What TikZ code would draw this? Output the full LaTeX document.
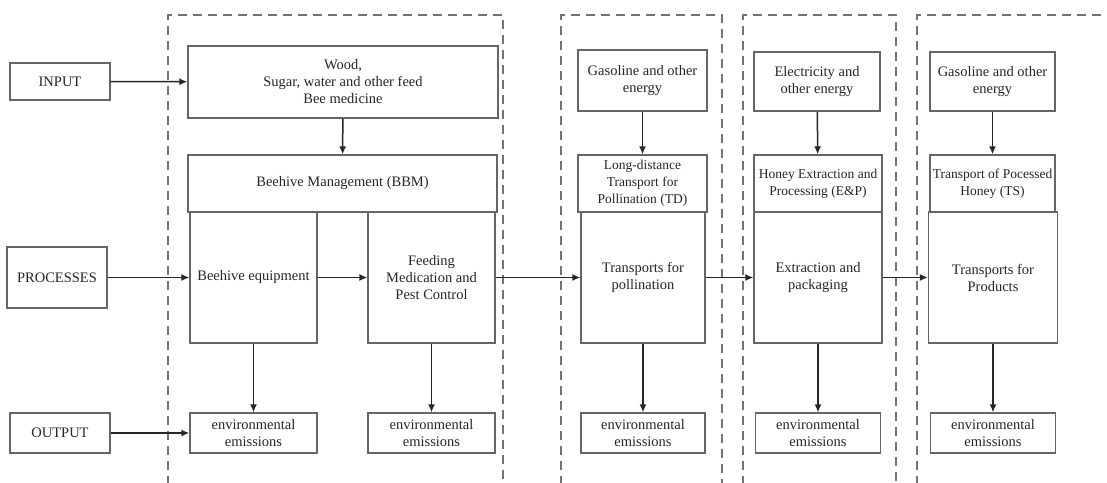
\documentclass[tikz,border=0pt]{standalone}
\usepackage{fontspec}
\setmainfont{Liberation Serif}
\usepackage{tikz}
\usetikzlibrary{arrows.meta}

\begin{document}
\begin{tikzpicture}[x=1pt,y=-1pt]
  \tikzset{ b/.style={draw=black!60,line width=1.3pt,fill=white,text=black!85,align=center,
      inner sep=1pt,font=\fontsize{14.5}{17}\selectfont},
    s/.style={b,font=\fontsize{13.5}{17}\selectfont},
    a/.style={-{Latex[length=8pt,width=7pt]},black!85,line width=1.5pt},
    pane/.style={black!55,line width=1.1pt,dash pattern=on 9pt off 6pt},
  }
  \useasboundingbox[fill=white] (0,0) rectangle (1107,482);
  \begin{scope}
    \clip (0,0) rectangle (1107,482);
    \draw[pane] (168,500) -- (168,15) -- (503,15) -- (503,500);
    \draw[pane] (561,500) -- (561,15) -- (722,15) -- (722,500);
    \draw[pane] (743,500) -- (743,15) -- (896,15) -- (896,500);
    \draw[pane] (917,500) -- (917,15) -- (1120,15);
  \end{scope}

  \node[b,minimum width=100pt,minimum height=37pt] (IN) at (60,81.5) {INPUT};
  \node[b,minimum width=100pt,minimum height=61pt] (PR) at (57,277.5) {PROCESSES};
  \node[b,minimum width=100pt,minimum height=40pt] (OUT) at (60,433) {OUTPUT};

  \node[b,minimum width=310pt,minimum height=72pt] (W) at (343,82) {Wood,\\Sugar, water and other feed\\Bee medicine};
  \node[b,minimum width=309pt,minimum height=57pt] (BBM) at (342.5,183.5) {Beehive Management (BBM)};
  \node[b,minimum width=127pt,minimum height=131pt] (BE) at (253.5,277.5) {Beehive equipment};
  \node[b,minimum width=127pt,minimum height=131pt] (FD) at (431.5,277.5) {Feeding\\Medication and\\Pest Control};
  \node[b,minimum width=127pt,minimum height=40pt] (E1) at (253.5,433) {environmental\\emissions};
  \node[b,minimum width=127pt,minimum height=40pt] (E2) at (431.5,433) {environmental\\emissions};

  \node[b,minimum width=129pt,minimum height=61pt] (G1) at (642.5,80.5) {Gasoline and other\\energy};
  \node[s,minimum width=129pt,minimum height=57pt] (TD) at (642.5,183.5) {Long-distance\\Transport for\\Pollination (TD)};
  \node[b,minimum width=124pt,minimum height=131pt] (TP) at (643,277.5) {Transports for\\pollination};
  \node[b,minimum width=124pt,minimum height=40pt] (E3) at (643,433) {environmental\\emissions};

  \node[b,minimum width=126pt,minimum height=59pt] (EL) at (817,81.5) {Electricity and\\other energy};
  \node[s,minimum width=128pt,minimum height=57pt] (EP) at (818,183.5) {Honey Extraction and\\Processing (E\&P)};
  \node[b,minimum width=128pt,minimum height=131pt] (XP) at (818,277.5) {Extraction and\\packaging};
  \node[b,minimum width=125pt,minimum height=40pt] (E4) at (818,433) {environmental\\emissions};

  \node[b,minimum width=125pt,minimum height=59pt] (G2) at (992.5,81.5) {Gasoline and other\\energy};
  \node[s,minimum width=125pt,minimum height=57pt] (TS) at (992.5,183.5) {Transport of Pocessed\\Honey (TS)};
  \node[b,minimum width=129pt,minimum height=131pt] (TR) at (993,277.5) {Transports for\\Products};
  \node[b,minimum width=125pt,minimum height=40pt] (E5) at (993,433) {environmental\\emissions};

  \draw[a] (IN) -- (W);
  \draw[a] (W) -- (BBM);
  \draw[a] (PR) -- (BE);
  \draw[a] (BE) -- (FD);
  \draw[a] (FD) -- (TP);
  \draw[a] (TP) -- (XP);
  \draw[a] (XP) -- (TR);
  \draw[a] (OUT) -- (E1);
  \draw[a] (BE) -- (E1);
  \draw[a] (FD) -- (E2);
  \draw[a] (G1) -- (TD);
  \draw[a] (TP) -- (E3);
  \draw[a] (EL) -- (EP);
  \draw[a] (XP) -- (E4);
  \draw[a] (G2) -- (TS);
  \draw[a] (TR) -- (E5);
\end{tikzpicture}
\end{document}
